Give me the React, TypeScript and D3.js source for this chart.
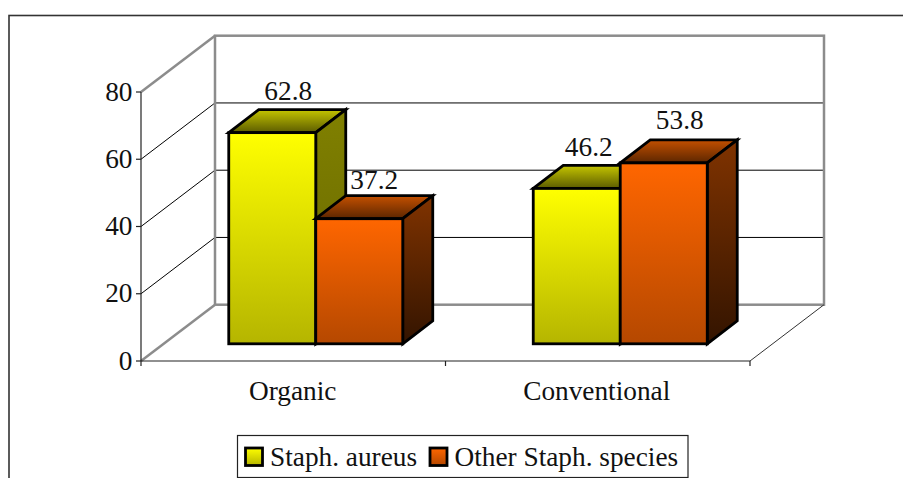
import React from "react";
import * as d3 from "d3";

const categories = ["Organic", "Conventional"];
const seriesNames = ["Staph. aureus", "Other Staph. species"];
const aureusValues = [62.8, 46.2];
const otherValues = [37.2, 53.8];
const yTicks = [0, 20, 40, 60, 80];

const W = 903, H = 478;
const plot = { left: 141, right: 750, front: 361, top: 92 };
const depth = { dx: 74, dy: -56.3 };
const barDepth = { dx: 30, dy: -23 };
const barShift = { dx: 22.5, dy: -17.2 };
const labelNudge = [
  { dx: 1, dy: -33 },
  { dx: 0, dy: -30 },
  { dx: -3, dy: -32 },
  { dx: 1, dy: -34 },
];
const FONT = "'Liberation Serif', 'Times New Roman', serif";
const FS = 27.3;

const y = d3.scaleLinear().domain([0, 80]).range([plot.front, plot.top]);
const x0 = d3.scaleBand<string>().domain(categories).range([plot.left, plot.right]);
const x1 = d3.scaleBand<string>().domain(seriesNames).range([0, x0.bandwidth()]).paddingInner(0).paddingOuter(0.75);
const h = (v: number) => plot.front - y(v);
const baseY = plot.front + barShift.dy;

const palette = [
  { id: "a", frontTop: "#ffff00", frontBottom: "#b5b500", topA: "#c4c400", topB: "#5c5c00", sideTop: "#808000", sideBottom: "#666600" },
  { id: "b", frontTop: "#ff6600", frontBottom: "#b54800", topA: "#c45000", topB: "#5c2600", sideTop: "#803300", sideBottom: "#331400" },
];

const Grad = ({ id, a, b }: { id: string; a: string; b: string }) => (
  <linearGradient id={id} x1="0" y1="0" x2="0" y2="1">
    <stop offset="0" stopColor={a} />
    <stop offset="1" stopColor={b} />
  </linearGradient>
);

const path = (pts: [number, number][]) => d3.line()(pts) + "Z";

export default function App() {
  const bars = categories.flatMap((c, i) =>
    seriesNames.map((s, j) => ({
      c, s, j, k: i * 2 + j,
      v: j === 0 ? aureusValues[i] : otherValues[i],
      x: x0(c)! + x1(s)! + barShift.dx,
      w: x1.bandwidth(),
    }))
  );
  const backL = plot.left + depth.dx;
  const backR = plot.right + depth.dx;
  return (
    <svg width={W} height={H} style={{ position: "absolute", left: 0, top: 0, background: "#fff" }} fontFamily={FONT} fontSize={FS}>
      <defs>
        {palette.map((p) => (
          <React.Fragment key={p.id}>
            <Grad id={p.id + "f"} a={p.frontTop} b={p.frontBottom} />
            <Grad id={p.id + "t"} a={p.topA} b={p.topB} />
            <Grad id={p.id + "s"} a={p.sideTop} b={p.sideBottom} />
          </React.Fragment>
        ))}
      </defs>
      <rect x={9} y={15.5} width={1000} height={480} fill="#fff" stroke="#333" strokeWidth={1.6} />

      {/* gridlines on back and side wall */}
      {yTicks.slice(1, -1).map((t) => (
        <path key={t} fill="none" stroke="#000" strokeWidth={1}
          d={d3.line()([[plot.left, y(t)], [backL, y(t) + depth.dy], [backR, y(t) + depth.dy]])!} />
      ))}
      {/* walls */}
      <g fill="none" stroke="#8c8c8c" strokeWidth={2.5}>
        <rect x={backL} y={y(80) + depth.dy} width={plot.right - plot.left} height={y(0) - y(80)} />
        <line x1={plot.left} y1={y(80)} x2={backL} y2={y(80) + depth.dy} />
        <line x1={plot.left} y1={y(0)} x2={backL} y2={y(0) + depth.dy} />
      </g>
      <line x1={plot.right} y1={y(0)} x2={backR} y2={y(0) + depth.dy} stroke="#333" strokeWidth={1} />
      {/* axes */}
      <g stroke="#222" strokeWidth={1.2}>
        <line x1={plot.left} y1={y(0)} x2={plot.left} y2={y(80)} />
        <line x1={plot.left} y1={y(0)} x2={plot.right} y2={y(0)} />
        {yTicks.map((t) => <line key={t} x1={plot.left - 5} x2={plot.left} y1={y(t)} y2={y(t)} />)}
        {[plot.left, x0.range()[0] + x0.bandwidth(), plot.right].map((v) => (
          <line key={v} x1={v} x2={v} y1={y(0)} y2={y(0) + 5} />
        ))}
      </g>
      {yTicks.map((t) => (
        <text key={t} x={plot.left - 8.5} y={y(t) + 8.5} textAnchor="end" fill="#111">{t}</text>
      ))}
      {categories.map((c, i) => (
        <text key={c} x={x0(c)! + x0.bandwidth() / 2 + (i === 0 ? -0.5 : -1)} y={400} textAnchor="middle" fill="#111">{c}</text>
      ))}

      {/* bars */}
      {bars.map((b) => {
        const top = baseY - h(b.v);
        const p = b.j === 0 ? palette[0] : palette[1];
        const r = b.x + b.w;
        return (
          <g key={b.c + b.s} stroke="#000" strokeWidth={2.8} strokeLinejoin="miter">
            <path fill={`url(#${p.id}t)`} d={path([[b.x, top], [b.x + barDepth.dx, top + barDepth.dy], [r + barDepth.dx, top + barDepth.dy], [r, top]])} />
            <path fill={`url(#${p.id}s)`} d={path([[r, top], [r + barDepth.dx, top + barDepth.dy], [r + barDepth.dx, baseY + barDepth.dy], [r, baseY]])} />
            <rect fill={`url(#${p.id}f)`} x={b.x} y={top} width={b.w} height={h(b.v)} />
          </g>
        );
      })}
      {bars.map((b) => (
        <text key={b.c + b.s} x={b.x + b.w / 2 + 15 + labelNudge[b.k].dx} y={baseY - h(b.v) + labelNudge[b.k].dy} textAnchor="middle" fill="#111">{b.v}</text>
      ))}

      {/* legend */}
      <rect x={237.5} y={435.5} width={450.5} height={42} fill="#fff" stroke="#222" strokeWidth={1.2} />
      {seriesNames.map((s, i) => {
        const bx = i === 0 ? 245.5 : 430;
        return (
          <g key={s}>
            <rect x={bx} y={448} width={17} height={17.5} fill={`url(#${palette[i].id}f)`} stroke="#000" strokeWidth={2.8} />
            <text x={i === 0 ? 270 : 454.5} y={466} fill="#111">{s}</text>
          </g>
        );
      })}
    </svg>
  );
}
